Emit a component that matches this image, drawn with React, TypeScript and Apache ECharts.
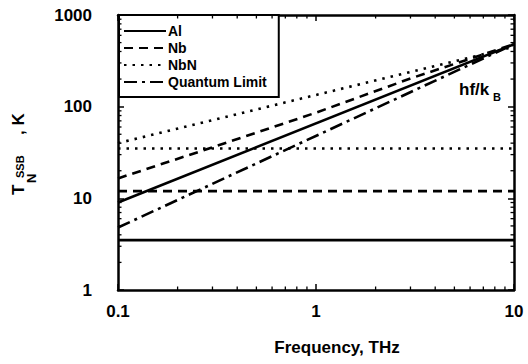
import React, { useEffect, useRef } from "react";
import * as echarts from "echarts";

// Frequency (THz) / noise temperature (K)
const alDiag: [number, number][] = [[0.1, 9], [10, 480]];
const alFlat: [number, number][] = [[0.1, 3.5], [10, 3.5]];
const nbDiag: [number, number][] = [[0.1, 16.5], [0.3, 36], [1, 86], [3, 203], [10, 480]];
const nbFlat: [number, number][] = [[0.1, 12], [10, 12]];
const nbnDiag: [number, number][] = [[0.1, 40], [10, 450]];
const nbnFlat: [number, number][] = [[0.1, 35], [10, 35]];
const quantumLimit: [number, number][] = [[0.1, 4.8], [10, 480]];

const legendNames = ["Al", "Nb", "NbN", "Quantum Limit"];
const xMinorTicks = [0.2, 0.3, 0.4, 0.5, 0.6, 0.7, 0.8, 0.9, 2, 3, 4, 5, 6, 7, 8, 9];
const yMinorTicks = [2, 3, 4, 5, 6, 7, 8, 9, 20, 30, 40, 50, 60, 70, 80, 90, 200, 300, 400, 500, 600, 700, 800, 900];

const FONT = "'Liberation Sans', Arial, Helvetica, sans-serif";
const BLACK = "#000";

const styles: Record<string, any> = {
  Al: { type: "solid", width: 2.6, color: BLACK },
  Nb: { type: [9, 6], width: 2.6, color: BLACK },
  NbN: { type: [2.5, 6], width: 2.6, color: BLACK },
  "Quantum Limit": { type: [13, 5, 3, 5], width: 2.6, color: BLACK },
};

function lineSeries(name: string, data: [number, number][]) {
  return {
    name,
    type: "line",
    data,
    symbol: "none",
    showSymbol: false,
    lineStyle: styles[name],
    itemStyle: { color: BLACK },
    z: 3,
  };
}

export default function App() {
  const ref = useRef<HTMLDivElement>(null);
  useEffect(() => {
    if (!ref.current) return;
    const chart = echarts.init(ref.current, undefined, { renderer: "svg" });
    const axisLine = { show: true, lineStyle: { color: BLACK, width: 2.5 } };
    const axisTick = { show: true, inside: true, length: 6, lineStyle: { color: BLACK, width: 1.5 } };
    const labelStyle = { color: BLACK, fontSize: 17, fontWeight: "bold", fontFamily: FONT };
    chart.setOption({
      animation: false,
      backgroundColor: "#fff",
      grid: { left: 118, right: 14, top: 15, bottom: 74 },
      xAxis: [
        {
          type: "log", logBase: 10, min: 0.1, max: 10, position: "bottom",
          axisLine, axisTick, splitLine: { show: false },
          axisLabel: { ...labelStyle, margin: 13, formatter: (v: number) => String(v) },
        },
        {
          type: "log", logBase: 10, min: 0.1, max: 10, position: "top",
          axisLine, axisTick, splitLine: { show: false }, axisLabel: { show: false },
        },
      ],
      yAxis: [
        {
          type: "log", logBase: 10, min: 1, max: 1000, position: "left",
          axisLine, axisTick, splitLine: { show: false },
          axisLabel: { ...labelStyle, margin: 26, formatter: (v: number) => String(v) },
        },
        {
          type: "log", logBase: 10, min: 1, max: 1000, position: "right",
          axisLine, axisTick, splitLine: { show: false }, axisLabel: { show: false },
        },
      ],
      legend: {
        data: legendNames,
        orient: "vertical",
        left: 119,
        top: 15,
        itemWidth: 42,
        itemHeight: 14,
        itemGap: 3,
        padding: [9, 12, 8, 4],
        borderColor: BLACK,
        borderWidth: 2,
        backgroundColor: "#fff",
        selectedMode: false,
        itemStyle: { opacity: 0, borderWidth: 0 },
        lineStyle: { opacity: 1 },
        textStyle: { color: BLACK, fontSize: 14, fontWeight: "bold", fontFamily: FONT, padding: [0, 0, 0, -3] },
      },
      series: [
        lineSeries("Al", alDiag),
        lineSeries("Nb", nbDiag),
        lineSeries("NbN", nbnDiag),
        lineSeries("Quantum Limit", quantumLimit),
        lineSeries("Al", alFlat),
        lineSeries("Nb", nbFlat),
        lineSeries("NbN", nbnFlat),
        {
          name: "xminor",
          type: "custom",
          data: xMinorTicks.map((v) => [v, 1]),
          clip: false,
          z: 4,
          renderItem: (_p: any, api: any) => {
            const v = api.value(0);
            const b = api.coord([v, 1]);
            const t = api.coord([v, 1000]);
            const st = { stroke: BLACK, lineWidth: 1.3 };
            return {
              type: "group",
              children: [
                { type: "line", shape: { x1: b[0], y1: b[1], x2: b[0], y2: b[1] - 3.5 }, style: st },
                { type: "line", shape: { x1: t[0], y1: t[1], x2: t[0], y2: t[1] + 3.5 }, style: st },
              ],
            };
          },
        },
        {
          name: "yminor",
          type: "custom",
          data: yMinorTicks.map((v) => [0.1, v]),
          clip: false,
          z: 4,
          renderItem: (_p: any, api: any) => {
            const v = api.value(1);
            const l = api.coord([0.1, v]);
            const r = api.coord([10, v]);
            const st = { stroke: BLACK, lineWidth: 1.3 };
            return {
              type: "group",
              children: [
                { type: "line", shape: { x1: l[0], y1: l[1], x2: l[0] + 3.5, y2: l[1] }, style: st },
                { type: "line", shape: { x1: r[0], y1: r[1], x2: r[0] - 3.5, y2: r[1] }, style: st },
              ],
            };
          },
        },
      ],
      graphic: [
        {
          type: "text", x: 337, y: 347,
          style: { text: "Frequency, THz", font: `bold 17px ${FONT}`, fill: BLACK, textAlign: "center", textVerticalAlign: "middle", align: "center", verticalAlign: "middle" },
        },
        {
          type: "text", x: 27, y: 195, rotation: Math.PI / 2,
          style: { text: "T", font: `bold 17px ${FONT}`, fill: BLACK, textAlign: "left", textVerticalAlign: "bottom", align: "left", verticalAlign: "bottom" },
        },
        {
          type: "text", x: 38, y: 183, rotation: Math.PI / 2,
          style: { text: "N", font: `bold 13px ${FONT}`, fill: BLACK, textAlign: "left", textVerticalAlign: "bottom", align: "left", verticalAlign: "bottom" },
        },
        {
          type: "text", x: 25, y: 178, rotation: Math.PI / 2,
          style: { text: "SSB", font: `bold 11px ${FONT}`, fill: BLACK, textAlign: "left", textVerticalAlign: "bottom", align: "left", verticalAlign: "bottom" },
        },
        {
          type: "text", x: 27, y: 135, rotation: Math.PI / 2,
          style: { text: ", K", font: `bold 17px ${FONT}`, fill: BLACK, textAlign: "left", textVerticalAlign: "bottom", align: "left", verticalAlign: "bottom" },
        },
        {
          type: "text", x: 459, y: 89,
          style: { text: "hf/k", font: `bold 17px ${FONT}`, fill: BLACK, textAlign: "left", textVerticalAlign: "middle", align: "left", verticalAlign: "middle" },
        },
        {
          type: "text", x: 493, y: 97,
          style: { text: "B", font: `bold 11px ${FONT}`, fill: BLACK, textAlign: "left", textVerticalAlign: "middle", align: "left", verticalAlign: "middle" },
        },
      ],
    });
    return () => chart.dispose();
  }, []);
  return (
    <div
      ref={ref}
      style={{ position: "fixed", left: 0, top: 0, width: 528, height: 364, background: "#fff" }}
    />
  );
}
